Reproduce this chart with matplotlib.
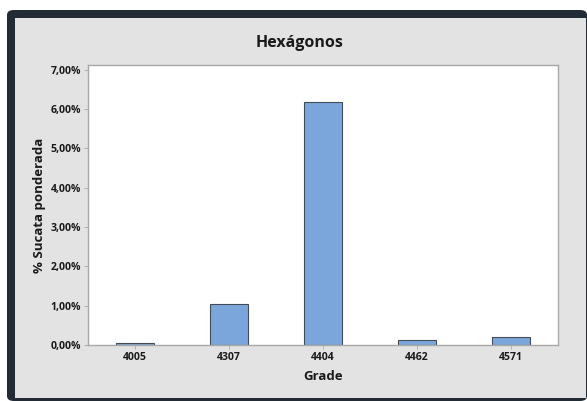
import matplotlib
matplotlib.use("Agg")
import matplotlib.pyplot as plt
from matplotlib.patches import FancyBboxPatch, Rectangle
from matplotlib.ticker import FuncFormatter

# dados: sucata ponderada por grade (fração)
grades = ["4005", "4307", "4404", "4462", "4571"]
sucata = [0.0005, 0.0104, 0.0618, 0.0012, 0.0020]
y_ticks = [0.00, 0.01, 0.02, 0.03, 0.04, 0.05, 0.06, 0.07]

plt.rcParams['font.family'] = ['Open Sans', 'DejaVu Sans']

W, H = 587, 401
fig = plt.figure(figsize=(W / 100, H / 100), dpi=100)
fig.patch.set_facecolor("white")

def fx(px):
    return px / W

def fy(py):
    return 1 - py / H

# moldura escura + fundo cinza
frame = FancyBboxPatch((fx(7), fy(401)), fx(587) - fx(7), fy(10) - fy(401),
                       boxstyle="round,pad=0,rounding_size=0.012",
                       transform=fig.transFigure, facecolor="#232b35",
                       edgecolor="none", zorder=-3)
fig.patches.append(frame)
inner = Rectangle((fx(15), fy(398)), fx(586) - fx(15), fy(18) - fy(398),
                  transform=fig.transFigure, facecolor="#e3e3e3",
                  edgecolor="none", zorder=-2)
fig.patches.append(inner)

ax = fig.add_axes([fx(88), fy(345), fx(558) - fx(88), fy(65) - fy(345)])
ax.set_facecolor("white")
x = range(len(grades))
ax.bar(x, sucata, width=0.41, color="#7ba6db", edgecolor="#454b55", linewidth=0.8)

ax.set_xlim(-0.5, len(grades) - 0.5)
ax.set_ylim(0, 0.0712)
ax.set_xticks(list(x))
ax.set_xticklabels(grades)
ax.set_yticks(y_ticks)
ax.yaxis.set_major_formatter(FuncFormatter(lambda v, p: f"{v * 100:.2f}%".replace(".", ",")))

for s in ax.spines.values():
    s.set_color("#a8a8a8")
    s.set_linewidth(1.0)
ax.tick_params(axis="both", length=3, width=0.6, color="#a8a8a8",
               labelsize=7.6, pad=2, labelcolor="#1a1a1a")
for lbl in ax.get_xticklabels() + ax.get_yticklabels():
    lbl.set_fontweight("bold")

fig.text(fx(300), fy(43), "Hexágonos", fontsize=11.5, fontweight="bold",
         color="#1a1a1a", ha="center", va="center")
ax.set_xlabel("Grade", fontsize=9.5, fontweight="bold", color="#1a1a1a", labelpad=5)
ax.set_ylabel("% Sucata ponderada", fontsize=9.5, fontweight="bold", color="#1a1a1a", labelpad=3)

fig.savefig("out.png", dpi=100)
